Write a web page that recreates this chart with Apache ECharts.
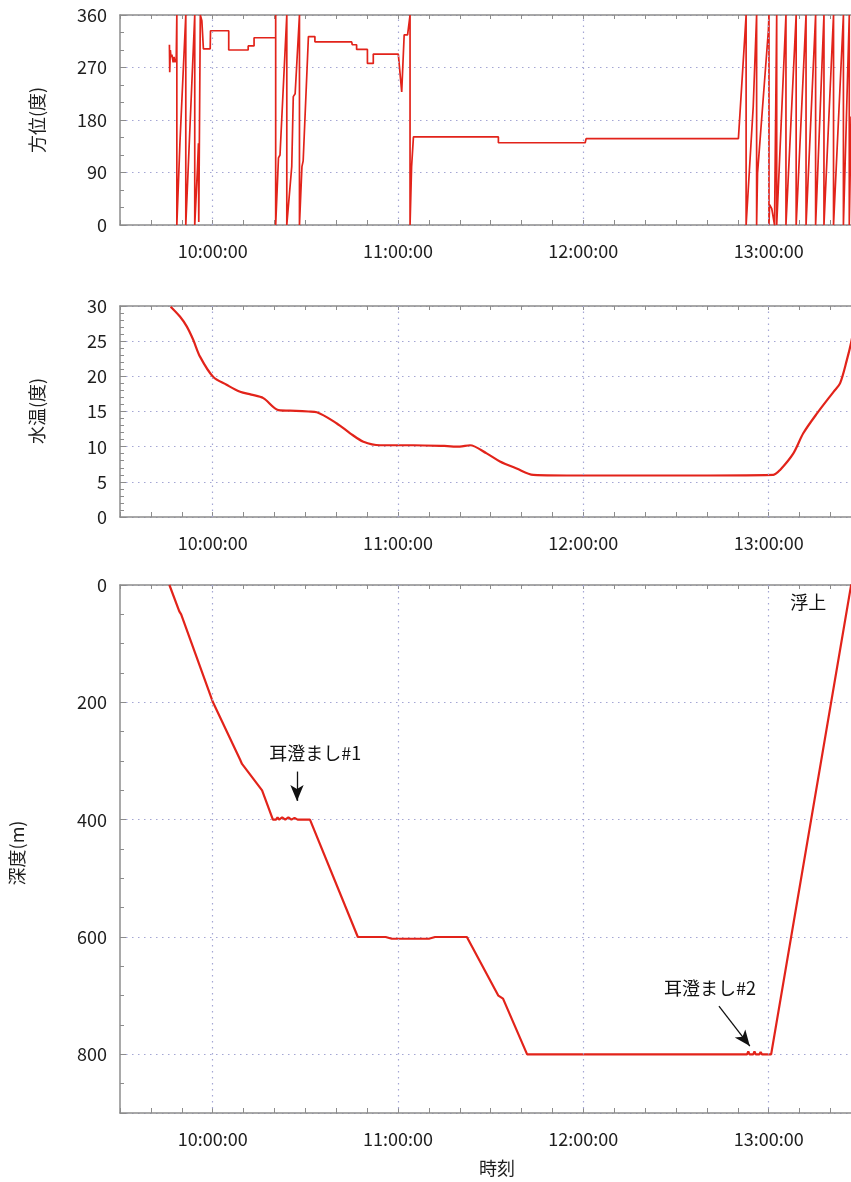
<!DOCTYPE html>
<html>
<head>
<meta charset="utf-8">
<script src="https://cdn.jsdelivr.net/npm/echarts@6/dist/echarts.min.js"></script>
<style>
  html, body { margin: 0; padding: 0; background: #ffffff; }
  #chart { width: 851px; height: 1182px; }
</style>
</head>
<body>
<div id="chart"></div>
<script>
// Time values are minutes since midnight (570 = 9:30, 840 = 14:00).
const timeRange = [570, 840];
const hourMarks = [600, 660, 720, 780];

// Heading (degrees) over time; 360 -> 0 pairs are the wrap-arounds while spinning.
const heading = [
  [586.0,309],[586.1,262],[586.3,300],[586.5,288],[586.8,292],[587.2,279],[587.5,288],[587.8,279],
  [588.2,284],[588.4,360],[588.4,0],[589.4,140],[591.3,360],[591.3,0],[594.2,360],[594.2,0],
  [595.1,100],[595.4,140],[595.5,5],[596.0,360],[596.5,350],[597.0,302],[599.2,302],[599.3,333],
  [605.2,333],[605.2,300],[611.5,300],[611.5,307],[613.4,307],[613.4,321],[620.4,321],[620.4,360],
  [620.4,0],[621.3,115],[621.8,120],[624.0,360],[624.0,0],[625.6,100],[626.1,220],[626.7,225],
  [628.1,360],[628.1,0],[628.9,100],[629.3,110],[631.0,323],[633.1,323],[633.1,314],[645.0,314],
  [645.2,309],[646.6,309],[646.6,301],[650.1,301],[650.1,277],[652.0,277],[652.0,293],[660.1,293],
  [661.2,228],[662.0,326],[663.1,326],[663.9,360],[663.9,0],[664.4,100],[665.0,151],[688.5,151],
  [688.7,153],[689.0,151],[692.5,151],[692.5,141],[720.6,141],[720.9,148],[770.2,148],[770.7,150],
  [772.4,334],[772.7,360],[772.7,0],[775.0,203],[775.3,205],[776.1,360],[776.1,0],[776.4,89],
  [779.9,333],[780.1,360],[780.1,0],[780.3,35],[781.0,28],[781.9,0],[782.6,360],[782.6,0],
  [785.6,360],[785.6,0],[788.9,360],[788.9,0],[792.1,360],[792.1,0],[795.2,360],[795.2,0],
  [797.9,360],[797.9,0],[801.0,360],[801.0,0],[804.2,360],[804.2,0],[806.1,360],[806.1,0],
  [806.7,186]
];

// Water temperature (deg C) over time.
const temperature = [
  [586.4,29.9],[589.4,28.5],[591.6,27.1],[593.7,25.2],[595.9,22.8],[600.2,19.9],[604.5,18.8],
  [608.9,17.8],[612.5,17.4],[616.4,16.9],[621.3,15.2],[627.0,15.1],[631.0,15.0],[633.7,14.9],
  [640.2,13.3],[644.5,11.9],[648.8,10.7],[654.2,10.2],[665.0,10.2],[675.0,10.1],[680.0,10.0],
  [683.3,10.2],[688.7,9.05],[693.0,7.9],[698.4,6.9],[703.8,6.0],[720.0,5.9],[750.0,5.9],
  [781.5,6.0],[783.7,6.7],[788.0,9.05],[791.2,11.9],[795.6,14.7],[801.0,17.8],[803.1,19.0],
  [805.3,22.3],[806.7,24.8],[808.0,28.0]
];

// Depth (m) over time.
const depth = [
  [586.0,0],[589.2,45],[589.8,50],[600.1,200],[608.9,298],[609.5,305],[616.0,350],[619.5,400],
  [620.5,400],[621.0,396],[621.5,400],[622.5,396],[623.5,400],[624.5,396],[625.5,400],[626.5,397],
  [627.5,400],[631.5,400],[647.0,600],[656.0,600],[658.0,603],[670.0,603],[672.0,600],[682.3,600],
  [692.5,700],[694.0,705],[701.8,800],[773.0,800],[773.4,795],[773.8,800],[775.0,800],[775.4,795],
  [775.8,800],[777.0,800],[777.4,796],[777.8,800],[780.8,800],[806.7,0],[830.0,0]
];

// Axis tick settings
const headingTicks = { min: 0, max: 360, interval: 90, minor: 3 };
const tempTicks = { min: 0, max: 30, interval: 5, minor: 5 };
const depthTicks = { min: 0, max: 900, interval: 200, minorInterval: 50 };

// Annotations on the depth panel: [time, depth] anchors
const depthNotes = [
  { text: '耳澄まし#1', at: [633.2, 286] },
  { text: '耳澄まし#2', at: [761.0, 687] },
  { text: '浮上', at: [792.8, 29] }
];
const depthArrows = [
  { from: [627.3, 318], to: [627.3, 368] },
  { from: [763.9, 718], to: [773.9, 786] }
];

const FONT = '"Noto Sans CJK JP", "Noto Sans", sans-serif';
const RED = '#e2231a';
const AXIS = '#8c8c8c';
const GRIDLINE = '#a4a6d4';
const TXT = '#1e1e1e';
const DOT = [1.5, 4.5];
const LABEL_SIZE = 18;

const panels = [
  { top: 15, height: 210 },
  { top: 306, height: 211 },
  { top: 585, height: 528 }
];

const grids = panels.map(p => ({
  left: 120, width: 834, top: p.top, height: p.height,
  outerBoundsMode: 'none', containLabel: false
}));

function bottomX(i) {
  return {
    type: 'value', gridIndex: i, position: 'bottom',
    min: timeRange[0], max: timeRange[1], interval: 10,
    axisLine: { show: true, onZero: false, lineStyle: { color: AXIS, width: 1.5 } },
    axisTick: { show: true, inside: true, length: 5, lineStyle: { color: AXIS } },
    axisLabel: {
      margin: 17, fontSize: LABEL_SIZE, color: TXT, fontFamily: FONT,
      formatter: v => (v % 60 === 0 ? (v / 60) + ':00:00' : '')
    },
    splitLine: { show: false }
  };
}
function topX(i) {
  return {
    type: 'value', gridIndex: i, position: 'top',
    min: timeRange[0], max: timeRange[1], interval: 10,
    axisLine: { show: true, onZero: false, lineStyle: { color: AXIS, width: 1.5 } },
    axisTick: { show: true, inside: true, length: 4, lineStyle: { color: AXIS } },
    axisLabel: { show: false },
    splitLine: { show: false }
  };
}
function leftY(i, t, extra) {
  return Object.assign({
    type: 'value', gridIndex: i, position: 'left',
    min: t.min, max: t.max, interval: t.interval,
    axisLine: { show: true, onZero: false, lineStyle: { color: AXIS, width: 1.5 } },
    axisTick: { show: true, inside: true, length: 6, lineStyle: { color: AXIS } },
    minorTick: t.minor ? { show: true, splitNumber: t.minor, length: 4, lineStyle: { color: AXIS } } : { show: false },
    axisLabel: { margin: 13, fontSize: LABEL_SIZE, color: TXT, fontFamily: FONT },
    splitLine: { show: true, lineStyle: { color: GRIDLINE, type: DOT, width: 1.2 } }
  }, extra || {});
}

const hourLines = hourMarks.map(v => ({ xAxis: v }));
function hourMarkLine(extraData) {
  return {
    silent: true, animation: false, symbol: ['none', 'none'],
    label: { show: false },
    lineStyle: { color: GRIDLINE, type: DOT, width: 1.2 },
    data: hourLines.concat(extraData || [])
  };
}

const arrowLines = depthArrows.map(a => [
  { coord: a.from, symbol: 'none', lineStyle: { color: '#111', type: 'solid', width: 1.3 } },
  { coord: a.to, symbol: 'arrow', symbolSize: [10, 16], lineStyle: { color: '#111', type: 'solid', width: 1.3 } }
]);

const chart = echarts.init(document.getElementById('chart'), null, { renderer: 'canvas' });

const option = {
  animation: false,
  backgroundColor: '#ffffff',
  textStyle: { fontFamily: FONT },
  grid: grids,
  xAxis: [bottomX(0), bottomX(1), bottomX(2), topX(0), topX(1), topX(2)],
  yAxis: [
    leftY(0, headingTicks),
    leftY(1, tempTicks),
    leftY(2, depthTicks, {
      inverse: true,
      axisLabel: { margin: 13, fontSize: LABEL_SIZE, color: TXT, fontFamily: FONT,
        formatter: v => (v % depthTicks.interval === 0 ? String(v) : '') }
    }),
    {
      type: 'value', gridIndex: 2, position: 'left', inverse: true,
      min: depthTicks.min, max: depthTicks.max, interval: depthTicks.minorInterval,
      axisLine: { show: false },
      axisTick: { show: true, inside: true, length: 4, lineStyle: { color: AXIS } },
      axisLabel: { show: false },
      splitLine: { show: false }
    }
  ],
  series: [
    {
      name: '方位', type: 'line', xAxisIndex: 0, yAxisIndex: 0,
      data: heading, showSymbol: false, symbol: 'none',
      lineStyle: { color: RED, width: 1.7 },
      markLine: hourMarkLine()
    },
    {
      name: '水温', type: 'line', xAxisIndex: 1, yAxisIndex: 1,
      data: temperature, showSymbol: false, symbol: 'none', smooth: 0.3,
      lineStyle: { color: RED, width: 2.2 },
      markLine: hourMarkLine()
    },
    {
      name: '深度', type: 'line', xAxisIndex: 2, yAxisIndex: 2,
      data: depth, showSymbol: false, symbol: 'none',
      lineStyle: { color: RED, width: 2.2 },
      markLine: hourMarkLine(arrowLines)
    }
  ]
};
chart.setOption(option);

// Axis titles and annotation texts
const titleStyle = { fontSize: LABEL_SIZE, fontFamily: FONT, fill: TXT, align: 'center', verticalAlign: 'middle' };
const graphics = [
  { type: 'text', x: 37, y: 120, rotation: Math.PI / 2, style: Object.assign({ text: '方位(度)' }, titleStyle) },
  { type: 'text', x: 37, y: 411, rotation: Math.PI / 2, style: Object.assign({ text: '水温(度)' }, titleStyle) },
  { type: 'text', x: 17, y: 853, rotation: Math.PI / 2, style: Object.assign({ text: '深度(m)' }, titleStyle) },
  { type: 'text', x: 497, y: 1168, style: Object.assign({ text: '時刻' }, titleStyle) }
];
depthNotes.forEach(n => {
  const p = chart.convertToPixel({ xAxisIndex: 2, yAxisIndex: 2 }, n.at);
  graphics.push({ type: 'text', x: p[0], y: p[1], style: Object.assign({ text: n.text }, titleStyle, { fill: '#111' }) });
});
chart.setOption({ graphic: graphics });
</script>
</body>
</html>
